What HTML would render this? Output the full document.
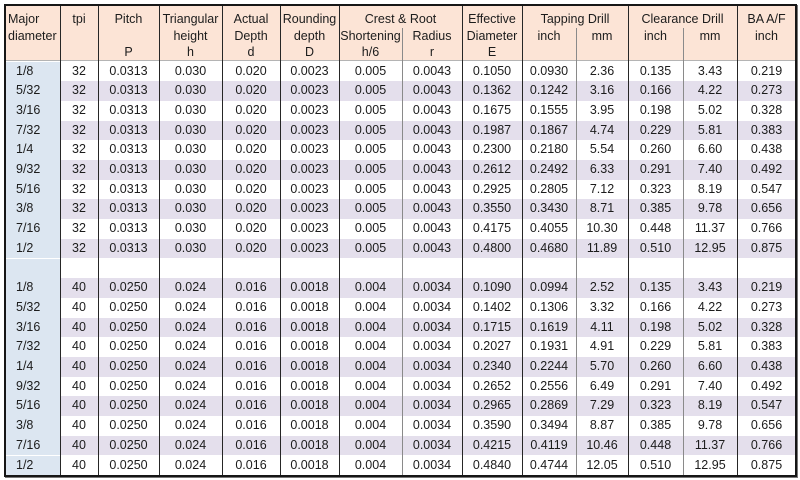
<!DOCTYPE html>
<html><head><meta charset="utf-8"><style>
html,body{margin:0;padding:0;background:#fff;}
body{width:800px;height:480px;position:relative;overflow:hidden;font-family:"Liberation Sans",sans-serif;font-size:12.5px;color:#1c1c1c;}
.hdr{position:absolute;left:5px;top:5px;width:791px;height:56px;background:#FCE4D6;}
.hline{position:absolute;left:5px;top:60px;width:791px;height:1px;background:#b4b4b4;}
.h{position:absolute;top:11px;line-height:16.5px;text-align:center;white-space:nowrap;}
.r{position:absolute;left:5px;width:791px;height:19.7px;display:flex;align-items:center;}
.r.a{background:#E4DFEC;}
.r div{text-align:center;flex:none;height:100%;line-height:19.7px;}
.r div:first-child{background:#DCE6F1;text-align:left;padding-left:11px;box-sizing:border-box;}
.v{position:absolute;width:1px;background:#262626;top:5px;height:471px;}
.g{position:absolute;width:1px;background:#8a8a8a;top:28px;height:448px;}
.box{position:absolute;left:4px;top:4px;width:793px;height:473px;border:2px solid #161616;box-sizing:border-box;box-shadow:1px 1px 0 #777;}
</style></head><body>
<div class="hdr"></div>
<div class="hline"></div>

<div class="h" style="left:8px;text-align:left;">Major<br>diameter</div>
<div class="h" style="left:60px;width:38px;">tpi</div>
<div class="h" style="left:98px;width:61px;">Pitch<br>&nbsp;<br>P</div>
<div class="h" style="left:159px;width:63px;">Triangular<br>height<br>h</div>
<div class="h" style="left:222px;width:58px;">Actual<br>Depth<br>d</div>
<div class="h" style="left:280px;width:59px;">Rounding<br>depth<br>D</div>
<div class="h" style="left:339px;width:123px;">Crest &amp; Root</div>
<div class="h" style="left:339px;width:63px;top:27.5px;">Shortening<br>h/6</div>
<div class="h" style="left:402px;width:60px;top:27.5px;">Radius<br>r</div>
<div class="h" style="left:462px;width:60px;">Effective<br>Diameter<br>E</div>
<div class="h" style="left:522px;width:106px;">Tapping Drill</div>
<div class="h" style="left:522px;width:54px;top:27.5px;">inch</div>
<div class="h" style="left:576px;width:52px;top:27.5px;">mm</div>
<div class="h" style="left:628px;width:109px;">Clearance Drill</div>
<div class="h" style="left:628px;width:55px;top:27.5px;">inch</div>
<div class="h" style="left:683px;width:54px;top:27.5px;">mm</div>
<div class="h" style="left:737px;width:59px;">BA A/F<br>inch</div>

<div id="rows">
<div class="r" style="top:61.5px"><div style="width:55px">1/8</div><div style="width:38px">32</div><div style="width:61px">0.0313</div><div style="width:63px">0.030</div><div style="width:58px">0.020</div><div style="width:59px">0.0023</div><div style="width:63px">0.005</div><div style="width:60px">0.0043</div><div style="width:60px">0.1050</div><div style="width:54px">0.0930</div><div style="width:52px">2.36</div><div style="width:55px">0.135</div><div style="width:54px">3.43</div><div style="width:59px">0.219</div></div>
<div class="r a" style="top:81.2px"><div style="width:55px">5/32</div><div style="width:38px">32</div><div style="width:61px">0.0313</div><div style="width:63px">0.030</div><div style="width:58px">0.020</div><div style="width:59px">0.0023</div><div style="width:63px">0.005</div><div style="width:60px">0.0043</div><div style="width:60px">0.1362</div><div style="width:54px">0.1242</div><div style="width:52px">3.16</div><div style="width:55px">0.166</div><div style="width:54px">4.22</div><div style="width:59px">0.273</div></div>
<div class="r" style="top:100.9px"><div style="width:55px">3/16</div><div style="width:38px">32</div><div style="width:61px">0.0313</div><div style="width:63px">0.030</div><div style="width:58px">0.020</div><div style="width:59px">0.0023</div><div style="width:63px">0.005</div><div style="width:60px">0.0043</div><div style="width:60px">0.1675</div><div style="width:54px">0.1555</div><div style="width:52px">3.95</div><div style="width:55px">0.198</div><div style="width:54px">5.02</div><div style="width:59px">0.328</div></div>
<div class="r a" style="top:120.6px"><div style="width:55px">7/32</div><div style="width:38px">32</div><div style="width:61px">0.0313</div><div style="width:63px">0.030</div><div style="width:58px">0.020</div><div style="width:59px">0.0023</div><div style="width:63px">0.005</div><div style="width:60px">0.0043</div><div style="width:60px">0.1987</div><div style="width:54px">0.1867</div><div style="width:52px">4.74</div><div style="width:55px">0.229</div><div style="width:54px">5.81</div><div style="width:59px">0.383</div></div>
<div class="r" style="top:140.3px"><div style="width:55px">1/4</div><div style="width:38px">32</div><div style="width:61px">0.0313</div><div style="width:63px">0.030</div><div style="width:58px">0.020</div><div style="width:59px">0.0023</div><div style="width:63px">0.005</div><div style="width:60px">0.0043</div><div style="width:60px">0.2300</div><div style="width:54px">0.2180</div><div style="width:52px">5.54</div><div style="width:55px">0.260</div><div style="width:54px">6.60</div><div style="width:59px">0.438</div></div>
<div class="r a" style="top:160px"><div style="width:55px">9/32</div><div style="width:38px">32</div><div style="width:61px">0.0313</div><div style="width:63px">0.030</div><div style="width:58px">0.020</div><div style="width:59px">0.0023</div><div style="width:63px">0.005</div><div style="width:60px">0.0043</div><div style="width:60px">0.2612</div><div style="width:54px">0.2492</div><div style="width:52px">6.33</div><div style="width:55px">0.291</div><div style="width:54px">7.40</div><div style="width:59px">0.492</div></div>
<div class="r" style="top:179.7px"><div style="width:55px">5/16</div><div style="width:38px">32</div><div style="width:61px">0.0313</div><div style="width:63px">0.030</div><div style="width:58px">0.020</div><div style="width:59px">0.0023</div><div style="width:63px">0.005</div><div style="width:60px">0.0043</div><div style="width:60px">0.2925</div><div style="width:54px">0.2805</div><div style="width:52px">7.12</div><div style="width:55px">0.323</div><div style="width:54px">8.19</div><div style="width:59px">0.547</div></div>
<div class="r a" style="top:199.4px"><div style="width:55px">3/8</div><div style="width:38px">32</div><div style="width:61px">0.0313</div><div style="width:63px">0.030</div><div style="width:58px">0.020</div><div style="width:59px">0.0023</div><div style="width:63px">0.005</div><div style="width:60px">0.0043</div><div style="width:60px">0.3550</div><div style="width:54px">0.3430</div><div style="width:52px">8.71</div><div style="width:55px">0.385</div><div style="width:54px">9.78</div><div style="width:59px">0.656</div></div>
<div class="r" style="top:219.1px"><div style="width:55px">7/16</div><div style="width:38px">32</div><div style="width:61px">0.0313</div><div style="width:63px">0.030</div><div style="width:58px">0.020</div><div style="width:59px">0.0023</div><div style="width:63px">0.005</div><div style="width:60px">0.0043</div><div style="width:60px">0.4175</div><div style="width:54px">0.4055</div><div style="width:52px">10.30</div><div style="width:55px">0.448</div><div style="width:54px">11.37</div><div style="width:59px">0.766</div></div>
<div class="r a" style="top:238.8px"><div style="width:55px">1/2</div><div style="width:38px">32</div><div style="width:61px">0.0313</div><div style="width:63px">0.030</div><div style="width:58px">0.020</div><div style="width:59px">0.0023</div><div style="width:63px">0.005</div><div style="width:60px">0.0043</div><div style="width:60px">0.4800</div><div style="width:54px">0.4680</div><div style="width:52px">11.89</div><div style="width:55px">0.510</div><div style="width:54px">12.95</div><div style="width:59px">0.875</div></div>
<div class="r" style="top:258.5px"><div style="width:55px"></div></div>
<div class="r a" style="top:278.2px"><div style="width:55px">1/8</div><div style="width:38px">40</div><div style="width:61px">0.0250</div><div style="width:63px">0.024</div><div style="width:58px">0.016</div><div style="width:59px">0.0018</div><div style="width:63px">0.004</div><div style="width:60px">0.0034</div><div style="width:60px">0.1090</div><div style="width:54px">0.0994</div><div style="width:52px">2.52</div><div style="width:55px">0.135</div><div style="width:54px">3.43</div><div style="width:59px">0.219</div></div>
<div class="r" style="top:297.9px"><div style="width:55px">5/32</div><div style="width:38px">40</div><div style="width:61px">0.0250</div><div style="width:63px">0.024</div><div style="width:58px">0.016</div><div style="width:59px">0.0018</div><div style="width:63px">0.004</div><div style="width:60px">0.0034</div><div style="width:60px">0.1402</div><div style="width:54px">0.1306</div><div style="width:52px">3.32</div><div style="width:55px">0.166</div><div style="width:54px">4.22</div><div style="width:59px">0.273</div></div>
<div class="r a" style="top:317.6px"><div style="width:55px">3/16</div><div style="width:38px">40</div><div style="width:61px">0.0250</div><div style="width:63px">0.024</div><div style="width:58px">0.016</div><div style="width:59px">0.0018</div><div style="width:63px">0.004</div><div style="width:60px">0.0034</div><div style="width:60px">0.1715</div><div style="width:54px">0.1619</div><div style="width:52px">4.11</div><div style="width:55px">0.198</div><div style="width:54px">5.02</div><div style="width:59px">0.328</div></div>
<div class="r" style="top:337.3px"><div style="width:55px">7/32</div><div style="width:38px">40</div><div style="width:61px">0.0250</div><div style="width:63px">0.024</div><div style="width:58px">0.016</div><div style="width:59px">0.0018</div><div style="width:63px">0.004</div><div style="width:60px">0.0034</div><div style="width:60px">0.2027</div><div style="width:54px">0.1931</div><div style="width:52px">4.91</div><div style="width:55px">0.229</div><div style="width:54px">5.81</div><div style="width:59px">0.383</div></div>
<div class="r a" style="top:357px"><div style="width:55px">1/4</div><div style="width:38px">40</div><div style="width:61px">0.0250</div><div style="width:63px">0.024</div><div style="width:58px">0.016</div><div style="width:59px">0.0018</div><div style="width:63px">0.004</div><div style="width:60px">0.0034</div><div style="width:60px">0.2340</div><div style="width:54px">0.2244</div><div style="width:52px">5.70</div><div style="width:55px">0.260</div><div style="width:54px">6.60</div><div style="width:59px">0.438</div></div>
<div class="r" style="top:376.7px"><div style="width:55px">9/32</div><div style="width:38px">40</div><div style="width:61px">0.0250</div><div style="width:63px">0.024</div><div style="width:58px">0.016</div><div style="width:59px">0.0018</div><div style="width:63px">0.004</div><div style="width:60px">0.0034</div><div style="width:60px">0.2652</div><div style="width:54px">0.2556</div><div style="width:52px">6.49</div><div style="width:55px">0.291</div><div style="width:54px">7.40</div><div style="width:59px">0.492</div></div>
<div class="r a" style="top:396.4px"><div style="width:55px">5/16</div><div style="width:38px">40</div><div style="width:61px">0.0250</div><div style="width:63px">0.024</div><div style="width:58px">0.016</div><div style="width:59px">0.0018</div><div style="width:63px">0.004</div><div style="width:60px">0.0034</div><div style="width:60px">0.2965</div><div style="width:54px">0.2869</div><div style="width:52px">7.29</div><div style="width:55px">0.323</div><div style="width:54px">8.19</div><div style="width:59px">0.547</div></div>
<div class="r" style="top:416.1px"><div style="width:55px">3/8</div><div style="width:38px">40</div><div style="width:61px">0.0250</div><div style="width:63px">0.024</div><div style="width:58px">0.016</div><div style="width:59px">0.0018</div><div style="width:63px">0.004</div><div style="width:60px">0.0034</div><div style="width:60px">0.3590</div><div style="width:54px">0.3494</div><div style="width:52px">8.87</div><div style="width:55px">0.385</div><div style="width:54px">9.78</div><div style="width:59px">0.656</div></div>
<div class="r a" style="top:435.8px"><div style="width:55px">7/16</div><div style="width:38px">40</div><div style="width:61px">0.0250</div><div style="width:63px">0.024</div><div style="width:58px">0.016</div><div style="width:59px">0.0018</div><div style="width:63px">0.004</div><div style="width:60px">0.0034</div><div style="width:60px">0.4215</div><div style="width:54px">0.4119</div><div style="width:52px">10.46</div><div style="width:55px">0.448</div><div style="width:54px">11.37</div><div style="width:59px">0.766</div></div>
<div class="r" style="top:455.5px"><div style="width:55px">1/2</div><div style="width:38px">40</div><div style="width:61px">0.0250</div><div style="width:63px">0.024</div><div style="width:58px">0.016</div><div style="width:59px">0.0018</div><div style="width:63px">0.004</div><div style="width:60px">0.0034</div><div style="width:60px">0.4840</div><div style="width:54px">0.4744</div><div style="width:52px">12.05</div><div style="width:55px">0.510</div><div style="width:54px">12.95</div><div style="width:59px">0.875</div></div>
</div>

<div class="v" style="left:60px"></div>
<div class="v" style="left:98px"></div>
<div class="v" style="left:159px"></div>
<div class="v" style="left:222px"></div>
<div class="v" style="left:280px"></div>
<div class="v" style="left:339px"></div>
<div class="g" style="left:402px"></div>
<div class="v" style="left:462px"></div>
<div class="v" style="left:522px"></div>
<div class="g" style="left:576px"></div>
<div class="v" style="left:628px"></div>
<div class="g" style="left:683px"></div>
<div class="v" style="left:737px"></div>
<div class="box"></div>
</body></html>
